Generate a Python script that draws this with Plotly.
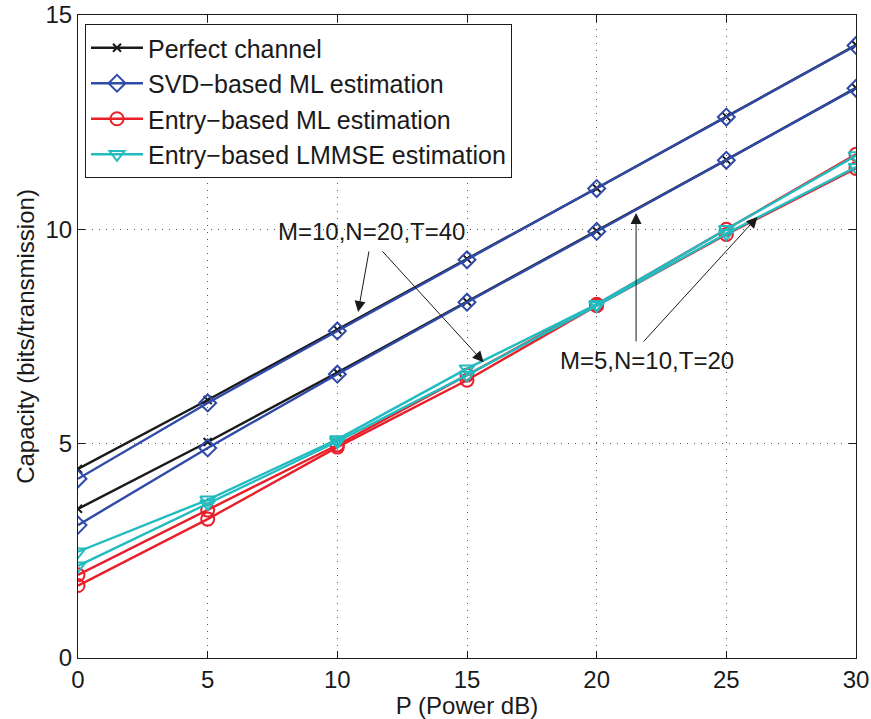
import plotly.graph_objects as go

power_db = [0, 5, 10, 15, 20, 25, 30]

perfect_a = [4.41, 6.02, 7.66, 9.31, 10.96, 12.63, 14.3]
perfect_b = [3.48, 5.04, 6.66, 8.31, 9.96, 11.62, 13.3]
svd_a = [4.18, 5.95, 7.63, 9.29, 10.95, 12.62, 14.29]
svd_b = [3.1, 4.9, 6.62, 8.3, 9.95, 11.61, 13.29]
entry_ml_a = [1.94, 3.45, 4.97, 6.6, 8.25, 10.0, 11.75]
entry_ml_b = [1.69, 3.24, 4.92, 6.48, 8.22, 9.88, 11.42]
lmmse_a = [2.48, 3.69, 5.1, 6.75, 8.25, 10.0, 11.72]
lmmse_b = [2.15, 3.6, 5.05, 6.6, 8.22, 9.9, 11.45]

names = ["Perfect channel", "SVD\u2212based ML estimation",
         "Entry\u2212based ML estimation", "Entry\u2212based LMMSE estimation"]
colors = ["#1a1a1a", "#2f4aa8", "#e8202a", "#22bcc0"]
symbols = ["x-thin-open", "diamond-open", "circle-open", "triangle-down-open"]
sizes = [8, 13, 13, 13]

series = [(perfect_a, perfect_b), (svd_a, svd_b), (entry_ml_a, entry_ml_b), (lmmse_a, lmmse_b)]

fig = go.Figure()
for i, (a, b) in enumerate(series):
    for j, ys in enumerate((a, b)):
        fig.add_trace(go.Scatter(
            x=power_db, y=ys, mode="lines+markers", name=names[i],
            showlegend=(j == 0), legendgroup=names[i],
            line=dict(color=colors[i], width=2.4),
            marker=dict(symbol=symbols[i], size=sizes[i], color=colors[i],
                        line=dict(color=colors[i], width=2)),
        ))

font = "Liberation Sans, Arial, Helvetica, sans-serif"
fs = 24

annotations = [
    dict(x=11.3, y=9.96, text="M=10,N=20,T=40", showarrow=False,
         font=dict(size=fs, color="#1a1a1a", family=font)),
    dict(x=21.95, y=6.93, text="M=5,N=10,T=20", showarrow=False,
         font=dict(size=fs, color="#1a1a1a", family=font)),
]
arrows = [
    ((11.23, 9.52), (10.8, 8.07)),
    ((11.69, 9.52), (15.64, 6.9)),
    ((21.52, 7.35), (21.52, 10.38)),
    ((21.76, 7.35), (26.2, 10.29)),
]
for (tx, ty), (hx, hy) in arrows:
    annotations.append(dict(
        x=hx, y=hy, ax=tx, ay=ty, xref="x", yref="y", axref="x", ayref="y",
        text="", showarrow=True, arrowhead=2, arrowsize=2.2, arrowwidth=1,
        arrowcolor="#1a1a1a"))

axis_common = dict(
    showgrid=True, gridcolor="#555", griddash="1px,6px", gridwidth=1,
    ticks="inside", ticklen=7, tickcolor="#1a1a1a",
    showline=True, linecolor="#1a1a1a", linewidth=1, mirror="ticks",
    zeroline=False, tickfont=dict(size=fs), automargin=False,
)

fig.update_layout(
    width=871, height=719,
    margin=dict(l=78, r=15, t=15, b=61, autoexpand=False),
    paper_bgcolor="white", plot_bgcolor="white",
    font=dict(family=font, size=fs, color="#1a1a1a"),
    annotations=annotations,
    legend=dict(x=0.009, y=0.986, xanchor="left", yanchor="top",
                bordercolor="#1a1a1a", borderwidth=1, bgcolor="white",
                font=dict(size=25), tracegroupgap=0, itemwidth=52),
    xaxis=dict(range=[0, 30], tickvals=[0, 5, 10, 15, 20, 25, 30],
               title=dict(text="P (Power dB)", standoff=0, font=dict(size=fs)),
               **axis_common),
    yaxis=dict(range=[0, 15], tickvals=[0, 5, 10, 15],
               title=dict(text="Capacity (bits/transmission)", standoff=4, font=dict(size=fs)),
               **axis_common),
)

fig.write_html("out.html")
